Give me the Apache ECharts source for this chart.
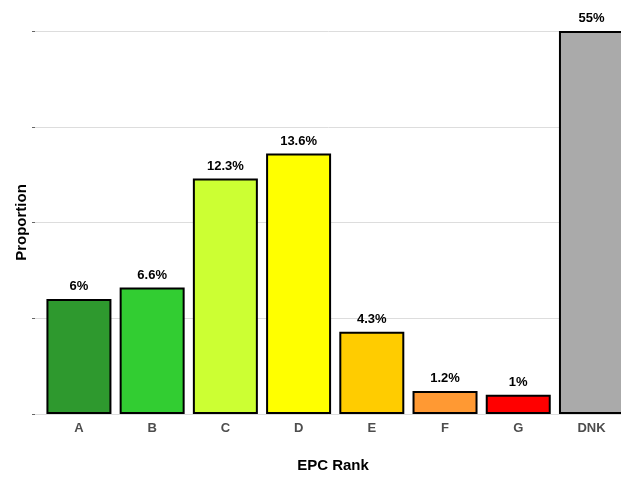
<!DOCTYPE html>
<html>
<head>
<meta charset="utf-8">
<script src="https://cdn.jsdelivr.net/npm/echarts@6/dist/echarts.min.js"></script>
<style>
  html, body { margin: 0; padding: 0; background: #fff; }
  #chart { width: 621px; height: 477px; }
</style>
</head>
<body>
<div id="chart"></div>
<script>
// EPC rank categories and their shares (%)
const categories = ['A', 'B', 'C', 'D', 'E', 'F', 'G', 'DNK']
const proportions = [6, 6.6, 12.3, 13.6, 4.3, 1.2, 1, 55]
const barColors = ['#2E992E', '#32CD32', '#CCFF33', '#FFFF00', '#FFCC00', '#FF9933', '#FF0000', '#AAAAAA']
const yTicks = [0, 5, 10, 15, 20]

const yMax = 20 // axis stops here, DNK bar is cut off at the top

const chart = echarts.init(document.getElementById('chart'))

const option = {
  animation: false,
  textStyle: { fontFamily: 'Liberation Sans, Arial, sans-serif' },
  // right edge sits past the window so the DNK bar looks cropped
  grid: { left: 35, right: -10, top: 31, bottom: 63, containLabel: false, outerBoundsMode: 'none' },
  xAxis: {
    type: 'value',
    min: 0.4,
    max: 8.54,
    name: 'EPC Rank',
    nameLocation: 'middle',
    nameGap: 44,
    nameTextStyle: { fontSize: 15, fontWeight: 'bold', color: '#000' },
    axisLine: { show: false },
    axisTick: { show: false },
    splitLine: { show: false },
    axisLabel: {
      customValues: categories.map((c, i) => i + 1),
      formatter: v => categories[Math.round(v) - 1] || '',
      fontSize: 13,
      fontWeight: 'bold',
      color: '#4D4D4D',
      margin: 8
    }
  },
  yAxis: {
    type: 'value',
    min: yTicks[0],
    max: yMax,
    interval: 5,
    name: 'Proportion',
    nameLocation: 'middle',
    nameGap: 6,
    nameTextStyle: { fontSize: 15, fontWeight: 'bold', color: '#000' },
    axisLine: { show: false },
    axisTick: { show: true, length: 3, lineStyle: { color: '#666', width: 1 } },
    axisLabel: { show: false },
    splitLine: { lineStyle: { color: '#DDDDDD', width: 1 } }
  },
  series: [
    {
      type: 'bar',
      barWidth: 65,
      clip: true,
      data: proportions.map((v, i) => ({
        value: [i + 1, Math.min(v, yMax)],
        itemStyle: { color: barColors[i] }
      })),
      itemStyle: { borderColor: '#000', borderWidth: 2 },
      label: {
        show: true,
        position: 'top',
        distance: 6,
        fontSize: 13,
        fontWeight: 'bold',
        color: '#000',
        formatter: p => proportions[p.dataIndex] + '%'
      }
    }
  ]
}

chart.setOption(option)
</script>
</body>
</html>
